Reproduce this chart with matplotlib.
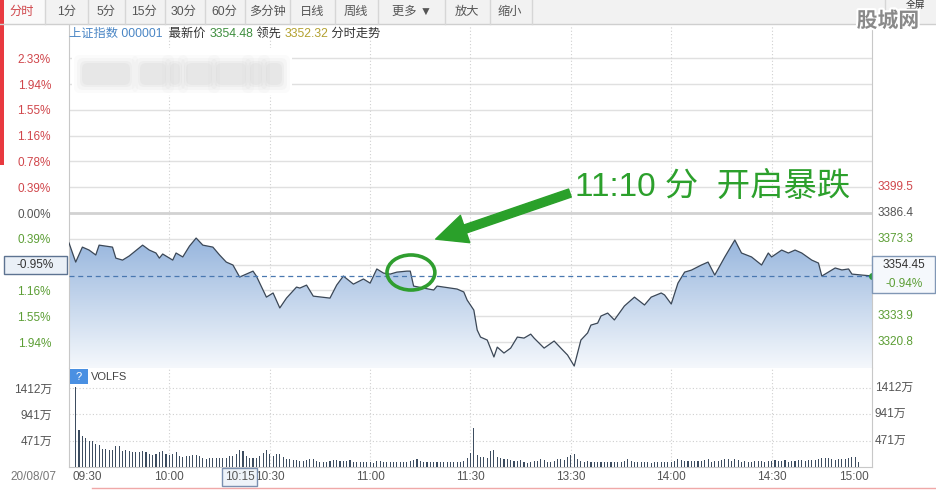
import numpy as np
import matplotlib
matplotlib.use("Agg")
import matplotlib.pyplot as plt
from matplotlib.patches import Rectangle, Ellipse, FancyBboxPatch
from matplotlib.colors import LinearSegmentedColormap
import matplotlib.patheffects as pe

plt.rcParams['font.family'] = ['Liberation Sans', 'Noto Sans CJK SC', 'DejaVu Sans']

# intraday price (minutes after 09:30, lunch break removed)
price_min = [0, 2, 4, 6, 8, 9, 13, 14, 16, 18, 22, 24, 26, 27, 28, 31, 32, 34, 36, 38,
             40, 43, 45, 47, 49, 51, 53, 55, 56, 59, 61, 63, 65, 68, 69, 71, 73, 78, 80, 82,
             85, 88, 90, 92, 94, 96, 98, 101, 102, 103, 106, 109, 110, 112, 116, 118, 119, 121, 122, 123,
             125, 127, 128, 130, 132, 134, 136, 138, 139, 142, 145, 147, 149, 151, 153, 155, 156, 158, 159, 161,
             163, 166, 169, 172, 174, 177, 178, 180, 182, 184, 186, 189, 191, 193, 196, 199, 201, 204, 207, 209,
             210, 213, 215, 217, 219, 222, 224, 225, 229, 231, 233, 234, 237, 240]
price_val = [3371.2, 3361.5, 3369.1, 3367.6, 3365.1, 3370.1, 3369.1, 3363.5, 3362.5, 3364.6,
             3370.1, 3367.6, 3366.1, 3363.5, 3365.6, 3362.5, 3366.1, 3364.1, 3369.6, 3373.7,
             3370.1, 3369.1, 3365.1, 3361.5, 3360.0, 3353.9, 3355.4, 3356.9, 3354.4, 3343.7,
             3345.8, 3338.2, 3343.2, 3348.8, 3348.3, 3349.8, 3344.2, 3343.2, 3349.8, 3354.4,
             3350.3, 3352.9, 3350.8, 3358.0, 3355.9, 3355.4, 3356.4, 3356.9, 3356.9, 3349.3,
             3348.3, 3347.3, 3349.3, 3348.8, 3347.8, 3346.3, 3342.2, 3337.1, 3327.0, 3323.4,
             3321.9, 3313.3, 3318.3, 3315.3, 3317.8, 3323.4, 3322.9, 3324.9, 3322.9, 3317.8,
             3321.4, 3317.8, 3314.3, 3308.7, 3321.9, 3325.5, 3329.5, 3330.5, 3334.1, 3335.6,
             3332.1, 3339.2, 3343.7, 3339.7, 3343.7, 3345.8, 3344.8, 3340.2, 3350.8, 3356.4,
             3357.4, 3360.0, 3361.5, 3354.9, 3364.1, 3372.7, 3366.1, 3364.1, 3360.0, 3366.1,
             3364.1, 3367.6, 3366.1, 3367.6, 3366.1, 3362.5, 3361.0, 3354.4, 3358.5, 3357.5,
             3358.0, 3355.4, 3354.9, 3354.45]
pre_close = 3386.4
last_price = 3354.45
price_step = 13.1

# left labels from +6 steps down to -5 steps (the -2 step one sits under the value box)
pct_labels = ['2.33%', '1.94%', '1.55%', '1.16%', '0.78%', '0.39%', '0.00%',
              '0.39%', '', '1.16%', '1.55%', '1.94%']
# right labels from +1 step down to -5 steps
right_labels = ['3399.5', '3386.4', '3373.3', '', '', '3333.9', '3320.8']

# volume per minute, in 万
volume = [1430, 664, 546, 516, 468, 457, 415, 397, 326, 320, 308, 308, 368, 380, 279, 308, 279, 261, 261, 261,
          290, 261, 237, 213, 237, 261, 279, 231, 213, 225, 261, 190, 178, 190, 202, 219, 219, 190, 160, 148,
          166, 166, 166, 154, 154, 166, 190, 202, 237, 296, 279, 202, 166, 160, 160, 202, 249, 296,
          231, 196, 231, 237, 184, 136, 136, 125, 125, 113, 113, 125, 136, 136, 107, 95, 95, 95, 113, 125,
          125, 113, 113, 113, 125, 83, 83, 95, 95, 95, 95, 77, 107, 113, 95, 83, 83, 83, 83, 95,
          95, 95, 113, 125, 136, 113, 95, 83, 95, 95, 95, 83, 83, 83, 83, 83, 95, 95, 113, 154,
          243, 700, 213, 184, 184, 166, 290, 302, 184, 154, 142, 142, 125, 113, 113, 125, 95, 77, 95, 113,
          113, 142, 125, 83, 95, 113, 136, 136, 125, 184, 213, 231, 142, 113, 83, 113, 95, 83, 83, 83,
          95, 83, 95, 83, 83, 95, 113, 136, 113, 95, 95, 95, 83, 83, 77, 95, 83, 83, 95, 95,
          83, 113, 142, 125, 113, 113, 113, 113, 113, 113, 125, 136, 95, 113, 113, 125, 136, 136, 113, 142,
          125, 95, 113, 95, 95, 113, 113, 113, 95, 113, 113, 125, 113, 113, 125, 95, 113, 113, 125, 125,
          113, 125, 125, 125, 142, 154, 166, 154, 136, 125, 136, 136, 142, 154, 172, 184, 95]
vol_ticks = [471, 941, 1412]
vol_labels = ['471万', '941万', '1412万']

time_ticks = [0, 30, 60, 90, 120, 150, 180, 210, 240]
time_labels = ['09:30', '10:00', '10:30', '11:00', '11:30', '13:30', '14:00', '14:30', '15:00']

tabs = ['分时', '1分', '5分', '15分', '30分', '60分', '多分钟', '日线', '周线', '更多 ▼', '放大', '缩小']

RED = '#d0464b'
GREEN = '#5c9e35'
GRAY = '#555555'
LINE = '#3b4756'

W, H = 936, 490
fig = plt.figure(figsize=(W / 100, H / 100), dpi=100)
fig.patch.set_facecolor('white')

L, R = 69, 872
ax = fig.add_axes([L / W, 1 - 368 / H, (R - L) / W, (368 - 25) / H])
axv = fig.add_axes([L / W, 1 - 467 / H, (R - L) / W, (467 - 368) / H])

# ---- price panel
y_lo, y_hi = 3307.7, 3481.9
ax.set_xlim(0, 240)
ax.set_ylim(y_lo, y_hi)
levels = [pre_close + price_step * k for k in range(6, -6, -1)]
for lv in levels:
    if abs(lv - pre_close) < 1e-6:
        ax.axhline(lv, color='#d2d2d2', lw=2, zorder=0)
    else:
        ax.axhline(lv, color='#e0e0e0', lw=1, zorder=0)
for t in time_ticks[1:-1]:
    ax.axvline(t, color='#d0d0d0', lw=0.8, ls=(0, (1, 2)), zorder=0)

poly = ax.fill_between(price_min, price_val, y_lo, color='none', lw=0)
cmap = LinearSegmentedColormap.from_list('blu', ['#93b3dc', '#f5f8fc'])
grad = np.linspace(0, 1, 256).reshape(-1, 1)
im = ax.imshow(grad, extent=[0, 240, y_lo, 3376], aspect='auto', cmap=cmap,
               origin='upper', zorder=1, interpolation='bilinear')
im.set_clip_path(poly.get_paths()[0], transform=ax.transData)
ax.set_ylim(y_lo, y_hi)
ax.plot(price_min, price_val, color=LINE, lw=0.9, zorder=3)
ax.axhline(last_price, color='#4a78b0', lw=0.9, ls=(0, (4, 3)), zorder=4)
ax.plot(240, last_price, 'o', ms=4, color='#2e9a3e', zorder=5, clip_on=False)

ax.set_xticks([])
ax.set_yticks(levels)
ax.set_yticklabels(pct_labels, fontsize=8.5)
ax.tick_params(axis='y', length=0, pad=13)
for i, lab in enumerate(ax.get_yticklabels()):
    lab.set_color(RED if i < 6 else (GRAY if i == 6 else GREEN))
for k, txt in zip(range(1, -6, -1), right_labels):
    if not txt:
        continue
    c = RED if k > 0 else (GRAY if k == 0 else GREEN)
    ax.text(1 + 6 / (R - L), pre_close + price_step * k, txt, transform=ax.get_yaxis_transform(),
            ha='left', va='center', fontsize=8.5, color=c)
for s in ['top', 'bottom']:
    ax.spines[s].set_visible(False)
for s in ['left', 'right']:
    ax.spines[s].set_color('#c8c8c8')
ax.axhline(y_lo, color='#d0d0d0', lw=1.2, zorder=0)

# annotation
ax.add_patch(Ellipse((102.2, 3356.2), 14.3, 17.8, fc='none', ec='#2f9e2f', lw=2.6, zorder=6))
ax.annotate('', xy=(108.8, 3372.7), xytext=(150.5, 3397.0),
            arrowprops=dict(arrowstyle='simple,head_width=1.3,head_length=1.4,tail_width=0.38',
                            fc='#2aa02a', ec='#2aa02a', mutation_scale=16), zorder=6)
ax.text(151.2, 3399.6, '11:10 分  开启暴跌', fontsize=24, color='#2ca02c',
        ha='left', va='center', zorder=6)

# ---- volume panel
axv.set_xlim(0, 240)
axv.set_ylim(0, 1769)
vol_min = np.arange(2, 2 + len(volume))
axv.bar(vol_min, volume, width=0.33, color='#3d4d60', zorder=3)
for v in vol_ticks:
    axv.axhline(v, color='#cfcfcf', lw=0.8, ls=(0, (1, 2)), zorder=0)
for t in time_ticks[1:-1]:
    axv.axvline(t, color='#d0d0d0', lw=0.8, ls=(0, (1, 2)), zorder=0)
axv.set_xticks([])
axv.set_yticks(vol_ticks)
axv.set_yticklabels(vol_labels, fontsize=8.5, color=GRAY)
axv.tick_params(axis='y', length=0, pad=12)
for v, txt in zip(vol_ticks, vol_labels):
    axv.text(1 + 3 / (R - L), v, txt, transform=axv.get_yaxis_transform(),
             ha='left', va='center', fontsize=8.5, color=GRAY)
axv.spines['top'].set_visible(False)
for s in ['left', 'right', 'bottom']:
    axv.spines[s].set_color('#c8c8c8')
for t, txt in zip(time_ticks, time_labels):
    ha = 'left' if t == 0 else ('right' if t == 240 else 'center')
    dx = 1 if t == 0 else (-1 if t == 240 else 0)
    axv.text(t + dx, -0.1, txt, transform=axv.get_xaxis_transform(), ha=ha, va='center',
             fontsize=8.5, color=GRAY)

# ---- page chrome (pixel coordinates)
ov = fig.add_axes([0, 0, 1, 1], zorder=10)
ov.set_xlim(0, W)
ov.set_ylim(H, 0)
ov.axis('off')

ov.add_patch(Rectangle((0, 0), W, 24, fc='#f2f2f2', ec='none'))
ov.add_patch(Rectangle((0, 0), 45, 24, fc='#fafafa', ec='none'))
ov.plot([0, W], [24.5, 24.5], color='#cfcfcf', lw=1)
for x in [45, 88, 125, 165, 205, 245, 290, 335, 378, 445, 490, 532, 885]:
    ov.plot([x, x], [0, 24], color='#d6d6d6', lw=1)
tab_x = [22, 67, 106, 144, 184, 224, 267, 312, 356, 412, 467, 510]
for x, t in zip(tab_x, tabs):
    ov.text(x, 12, t, ha='center', va='center', fontsize=8.8,
            color=RED if t == '分时' else '#555555')
ov.add_patch(Rectangle((0, 0), 4, 165, fc='#e8393f', ec='none'))
ov.text(916, 5, '全屏', ha='center', va='center', fontsize=7, color='#333333')
ov.text(888, 21, '股城网', ha='center', va='center', fontsize=15, color='#8a8a8a',
        fontweight='bold', path_effects=[pe.withStroke(linewidth=3, foreground='white')])

# header line
hx = 69
for txt, col in [('上证指数 000001', '#4a86c5'), ('  最新价 ', '#333333'), ('3354.48', '#3f8f3f'),
                 (' 领先 ', '#333333'), ('3352.32', '#b3a130'), (' 分时走势', '#333333')]:
    t = ov.text(hx, 34, txt, ha='left', va='center', fontsize=8.8, color=col)
    fig.canvas.draw()
    bb = t.get_window_extent()
    hx += bb.width

# blurred block
ov.add_patch(Rectangle((72, 48), 220, 47, fc='white', ec='none'))
for x0, x1 in [(82, 130), (140, 166), (170, 180), (186, 212), (216, 246), (250, 262), (266, 282)]:
    for pad, a in [(8, 0.08), (5, 0.12), (2, 0.18), (0, 0.22)]:
        ov.add_patch(FancyBboxPatch((x0 - pad, 63 - pad), x1 - x0 + 2 * pad, 22 + 2 * pad,
                                    boxstyle='round,pad=0,rounding_size=6',
                                    fc='#cfcfcf', ec='none', alpha=a))

# current value boxes
ov.add_patch(Rectangle((4, 256), 63, 18, fc='#eaf0f7', ec='#5d7391', lw=1))
ov.text(35, 265, '-0.95%', ha='center', va='center', fontsize=8.5, color='#333333')
ov.add_patch(Rectangle((872, 256), 63, 37, fc='#f5f8fc', ec='#8097b5', lw=1))
ov.text(904, 265, '3354.45', ha='center', va='center', fontsize=8.5, color='#333333')
ov.text(904, 284, '-0.94%', ha='center', va='center', fontsize=8.5, color=GREEN)

# volume legend
ov.add_patch(Rectangle((70, 369), 18, 15, fc='#4a90e2', ec='none'))
ov.text(79, 376.5, '?', ha='center', va='center', fontsize=8, color='white')
ov.text(91, 376.5, 'VOLFS', ha='left', va='center', fontsize=8, color='#444444')

# bottom row
ov.text(10, 477, '20/08/07', ha='left', va='center', fontsize=8.5, color='#777777')
ov.add_patch(Rectangle((222, 468), 35, 18, fc='#eef3f9', ec='#7a8fb0', lw=1))
ov.text(239.5, 477, '10:15', ha='center', va='center', fontsize=8.5, color=GRAY)
ov.plot([92, W], [488, 488], color='#f0a8a8', lw=1)

fig.savefig('out.png', dpi=100)
